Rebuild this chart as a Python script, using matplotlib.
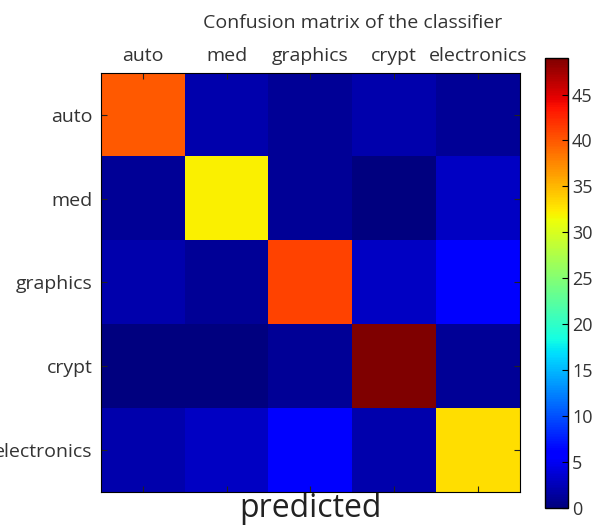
import numpy as np
import matplotlib
matplotlib.use("Agg")
import matplotlib.pyplot as plt

plt.rcParams['font.family'] = ['Open Sans', 'DejaVu Sans']

labels = ["auto", "med", "graphics", "crypt", "electronics"]

# rows: true class, columns: predicted class
row_auto = [40, 2, 1, 2, 1]
row_med = [1, 32, 1, 0, 3]
row_graphics = [2, 1, 41, 3, 6]
row_crypt = [0, 0, 1, 49, 1]
row_electronics = [2, 3, 6, 2, 33]

cm = np.array([row_auto, row_med, row_graphics, row_crypt, row_electronics])

fig = plt.figure(figsize=(6.06, 5.30), dpi=100)
ax = fig.add_axes([0.1667, 0.0717, 0.691, 0.7906])
im = ax.matshow(cm, cmap='jet', vmin=0, vmax=cm.max(), aspect='auto')

ax.set_xticks(range(len(labels)))
ax.set_yticks(range(len(labels)))
ax.set_xticklabels(labels, fontsize=14)
ax.set_yticklabels(labels, fontsize=14)
ax.tick_params(direction='in', length=4, top=True, bottom=True, left=True, right=True,
               labeltop=True, labelbottom=False, pad=6, colors='#222222')
for lbl in ax.get_xticklabels() + ax.get_yticklabels():
    lbl.set_color('#333333')

fig.text(0.582, 0.957, "Confusion matrix of the classifier", fontsize=14,
         color='#333333', ha='center', va='center')
ax.set_xlabel("predicted", fontsize=23, color='#222222', labelpad=0)

cax = fig.add_axes([0.899, 0.042, 0.038, 0.849])
cb = fig.colorbar(im, cax=cax, ticks=range(0, 50, 5))
cb.ax.tick_params(direction='in', length=4, labelsize=13, labelcolor='#333333', pad=3)
cb.outline.set_linewidth(1)

fig.savefig("out.png", dpi=100)
